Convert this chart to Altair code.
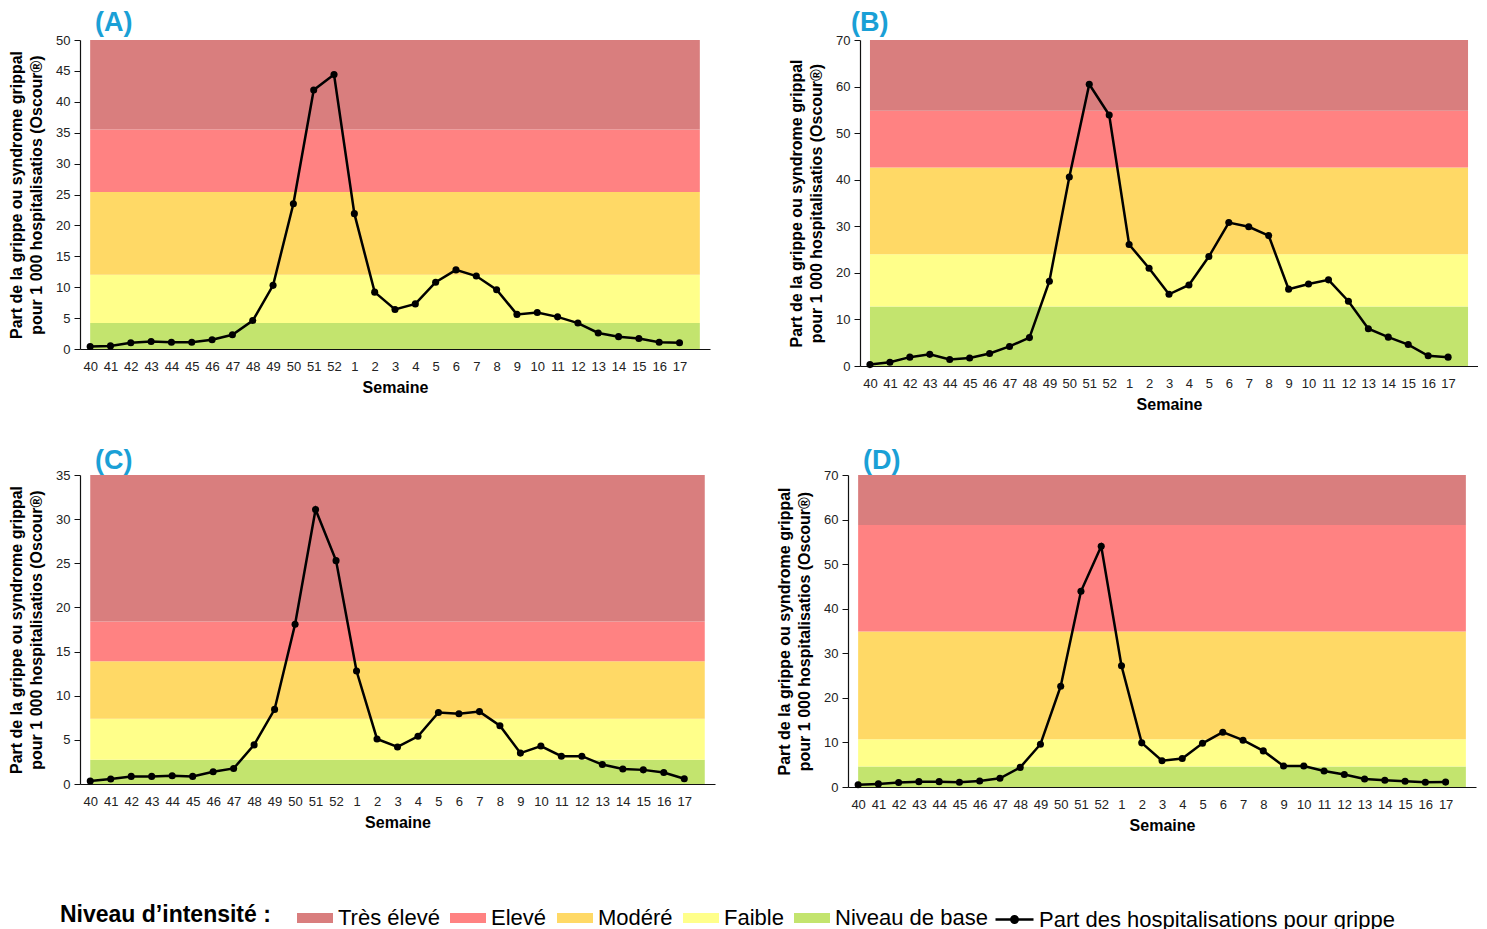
import altair as alt
import pandas as pd

weeks = ["40", "41", "42", "43", "44", "45", "46", "47", "48", "49", "50", "51", "52",
         "1", "2", "3", "4", "5", "6", "7", "8", "9", "10", "11", "12", "13", "14", "15", "16", "17"]

vals_A = [0.4, 0.5, 1.0, 1.2, 1.1, 1.1, 1.5, 2.3, 4.6, 10.3, 23.5, 41.9, 44.4,
          21.9, 9.2, 6.4, 7.3, 10.8, 12.8, 11.8, 9.6, 5.6, 5.9, 5.2, 4.2, 2.6, 2.0, 1.7, 1.1, 1.0]
vals_B = [0.3, 0.8, 1.9, 2.5, 1.4, 1.7, 2.7, 4.2, 6.1, 18.2, 40.6, 60.5, 53.9,
          26.1, 21.0, 15.4, 17.4, 23.5, 30.8, 29.9, 28.0, 16.5, 17.6, 18.5, 13.9, 8.0, 6.2, 4.6, 2.2, 1.9]
vals_C = [0.34, 0.56, 0.86, 0.86, 0.94, 0.86, 1.39, 1.76, 4.43, 8.45, 18.1, 31.1, 25.3,
          12.8, 5.1, 4.2, 5.4, 8.1, 7.96, 8.2, 6.6, 3.5, 4.3, 3.15, 3.15, 2.2, 1.7, 1.6, 1.3, 0.6]
vals_D = [0.5, 0.7, 1.0, 1.2, 1.2, 1.05, 1.35, 1.96, 4.4, 9.6, 22.6, 43.9, 54.0,
          27.2, 9.9, 5.9, 6.4, 9.8, 12.3, 10.5, 8.1, 4.7, 4.7, 3.6, 2.8, 1.8, 1.5, 1.3, 1.05, 1.1]

# upper limits of: Niveau de base, Faible, Modéré, Elevé (Très élevé goes up to the axis max)
thr_A = [4.2, 12.0, 25.4, 35.5]
thr_B = [12.8, 24.0, 42.6, 54.8]
thr_C = [2.75, 7.4, 13.9, 18.4]
thr_D = [4.6, 10.7, 34.9, 58.8]
ymax_A, ymax_B, ymax_C, ymax_D = 50, 70, 35, 70
ystep_A, ystep_B, ystep_C, ystep_D = 5, 10, 5, 10

levels = ["Très élevé", "Elevé", "Modéré", "Faible", "Niveau de base"]
level_colors = ["#D97E7E", "#FF8282", "#FFD966", "#FFFF8A", "#C3E46E"]
series_name = "Part des hospitalisations pour grippe"

FONT = "Liberation Sans"
n = len(weeks)
label_expr = "[" + ",".join("'%s'" % w for w in weeks) + "][datum.value]"


def panel(label, vals, thr, ymax, ystep, width, height, toff, tdx):
    bottoms = [0] + thr
    tops = thr + [ymax]
    bottom_up = list(reversed(levels))
    bands = pd.DataFrame({
        "niveau": bottom_up,
        "y0": bottoms,
        "y1": tops,
        "x0": [0] * 5,
        "x1": [n] * 5,
    })
    series = pd.DataFrame({"i": list(range(n)), "semaine": weeks, "v": vals,
                           "serie": [series_name] * n})

    xscale = alt.Scale(domain=[-0.5, n + 0.5], nice=False, zero=False)
    yscale = alt.Scale(domain=[0, ymax], nice=False)
    xaxis = alt.Axis(title="Semaine", values=list(range(n)), labelExpr=label_expr,
                     ticks=False, grid=False, labelPadding=11, titlePadding=6,
                     labelOverlap=False, labelFlush=False, labelAngle=0)
    yaxis = alt.Axis(title=["Part de la grippe ou syndrome grippal",
                            "pour 1 000 hospitalisatios (Oscour®)"],
                     values=list(range(0, ymax + 1, ystep)), grid=False,
                     tickSize=6, labelPadding=4, titlePadding=11)

    rect = alt.Chart(bands).mark_rect().encode(
        x=alt.X("x0:Q", scale=xscale, axis=xaxis),
        x2="x1:Q",
        y=alt.Y("y0:Q", scale=yscale, axis=yaxis),
        y2="y1:Q",
        fill=alt.Fill("niveau:N",
                      scale=alt.Scale(domain=levels, range=level_colors),
                      legend=alt.Legend(
                          title="Niveau d’intensité :", orient="none",
                          legendX=-20, legendY=860, direction="horizontal",
                          titleOrient="left", titleFontSize=23, titleFont=FONT,
                          titleFontWeight="bold", titleColor="black",
                          titlePadding=26, titleBaseline="middle", titleLimit=400,
                          labelFontSize=22, labelFont=FONT, labelColor="black",
                          labelLimit=400,
                          symbolType="M-1,-0.28H1V0.28H-1Z", symbolSize=1296,
                          symbolStrokeWidth=0, symbolOpacity=1,
                          labelOffset=5, columnPadding=10)),
    )
    line = alt.Chart(series).mark_line(strokeWidth=2.5).encode(
        x=alt.X("i:Q", scale=xscale, axis=xaxis),
        y=alt.Y("v:Q", scale=yscale, axis=yaxis),
        stroke=alt.Stroke("serie:N",
                          scale=alt.Scale(domain=[series_name], range=["black"]),
                          legend=alt.Legend(
                              title=None, orient="none", legendX=914, legendY=859,
                              direction="horizontal",
                              symbolType="M-1,0H1M-0.17,0A0.17,0.17 0 1,1 0.17,0A0.17,0.17 0 1,1 -0.17,0",
                              symbolSize=1444, symbolStrokeWidth=2.5,
                              symbolFillColor="black", symbolStrokeColor="black",
                              labelFontSize=22, labelFont=FONT, labelColor="black",
                              labelLimit=500, labelOffset=4)),
    )
    pts = alt.Chart(series).mark_circle(size=50, color="black", opacity=1).encode(
        x=alt.X("i:Q", scale=xscale, axis=xaxis),
        y=alt.Y("v:Q", scale=yscale, axis=yaxis),
    )
    return alt.layer(rect, line, pts).properties(
        width=width, height=height,
        title=alt.TitleParams(label, anchor="start", frame="group", dx=tdx, fontSize=27,
                              fontWeight="bold", color="#1AA0D6", font=FONT,
                              offset=toff),
    )


A = panel("(A)", vals_A, thr_A, ymax_A, ystep_A, 630, 309, -3, 15)
B = panel("(B)", vals_B, thr_B, ymax_B, ystep_B, 618, 326, -3, -9)
C = panel("(C)", vals_C, thr_C, ymax_C, ystep_C, 635, 309, -6, 15)
D = panel("(D)", vals_D, thr_D, ymax_D, ystep_D, 628, 312, -6, 15)

chart = alt.vconcat(
    alt.hconcat(A, B, spacing=78),
    alt.hconcat(C, D, spacing=61),
    spacing=35,
).properties(
    padding={"left": 0, "top": 1, "right": 0, "bottom": 0},
).configure_view(
    stroke=None,
).configure_axis(
    labelFont=FONT, labelFontSize=13, labelColor="#222222",
    titleFont=FONT, titleFontSize=16, titleFontWeight="bold", titleColor="black",
    titleLineHeight=20,
    domainColor="#111111", tickColor="#111111", domainWidth=1.2,
)

chart.save("out.html", embed_options={"renderer": "svg", "actions": False})
